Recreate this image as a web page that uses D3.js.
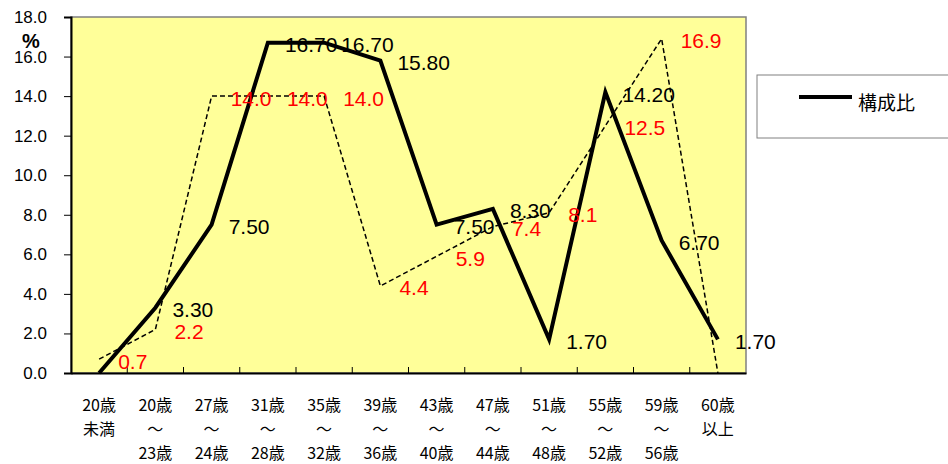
<!doctype html>
<html>
<head>
<meta charset="utf-8">
<script src="https://cdnjs.cloudflare.com/ajax/libs/d3/7.8.5/d3.min.js"></script>
<style>
  body { margin: 0; background: #fff; }
  svg { display: block; }
  .ytick text { font-family: "Liberation Sans", Arial, sans-serif; font-size: 17px; fill: #000; }
  .xlab { font-family: "Noto Sans CJK JP", sans-serif; font-size: 16px; fill: #000; }
  .lab { font-family: "Liberation Sans", Arial, sans-serif; font-size: 21px; }
</style>
</head>
<body>
<svg width="948" height="464"></svg>
<script>
// data
var line1 = ["20歳", "20歳", "27歳", "31歳", "35歳", "39歳", "43歳", "47歳", "51歳", "55歳", "59歳", "60歳"];
var line2 = ["未満", "～", "～", "～", "～", "～", "～", "～", "～", "～", "～", "以上"];
var line3 = ["", "23歳", "24歳", "28歳", "32歳", "36歳", "40歳", "44歳", "48歳", "52歳", "56歳", ""];
var kosei = [0, 3.3, 7.5, 16.7, 16.7, 15.8, 7.5, 8.3, 1.7, 14.2, 6.7, 1.7];
var koseiLabels = ["", "3.30", "7.50", "16.70", "16.70", "15.80", "7.50", "8.30", "1.70", "14.20", "6.70", "1.70"];
var other = [0.7, 2.2, 14.0, 14.0, 14.0, 4.4, 5.9, 7.4, 8.1, 12.5, 16.9, 0];
var otherLabels = ["0.7", "2.2", "14.0", "14.0", "14.0", "4.4", "5.9", "7.4", "8.1", "12.5", "16.9", ""];
var yTicks = [0, 2, 4, 6, 8, 10, 12, 14, 16, 18];

var svg = d3.select("svg");
var pL = 71, pR = 746, pT = 17, pB = 373;

var x = d3.scaleBand().domain(d3.range(line1.length)).range([pL, pR]);
var y = d3.scaleLinear().domain([0, 18]).range([pB, pT]);
function cx(i) { return x(i) + x.bandwidth() / 2; }

// plot area
svg.append("rect")
  .attr("x", pL).attr("y", pT)
  .attr("width", pR - pL).attr("height", pB - pT)
  .attr("fill", "#ffff99").attr("stroke", "#808080").attr("stroke-width", 1.5);

// y axis
var yAxis = svg.append("g").attr("class", "ytick")
  .attr("transform", "translate(" + pL + ",0)")
  .call(d3.axisLeft(y).tickValues(yTicks).tickFormat(d3.format(".1f")).tickSize(7).tickPadding(17));
yAxis.select(".domain").attr("stroke", "#000").attr("stroke-width", 2);
yAxis.selectAll(".tick line").attr("stroke", "#000").attr("stroke-width", 1);

svg.append("text").attr("x", 31).attr("y", 48)
  .attr("text-anchor", "middle")
  .attr("font-family", "Liberation Sans, Arial, sans-serif")
  .attr("font-weight", "bold")
  .attr("font-size", 20).text("%");

// x axis
var xAxis = svg.append("g")
  .attr("transform", "translate(0," + pB + ")")
  .call(d3.axisBottom(x).tickValues([]).tickSizeOuter(0));
xAxis.select(".domain").attr("stroke", "#000").attr("stroke-width", 2);
svg.selectAll("line.xt").data(d3.range(1, line1.length)).enter().append("line")
  .attr("class", "xt")
  .attr("x1", function (d) { return x(d); }).attr("x2", function (d) { return x(d); })
  .attr("y1", pB).attr("y2", pB - 6)
  .attr("stroke", "#000");

var xl = svg.selectAll("text.xlab").data(d3.range(line1.length)).enter().append("text")
  .attr("class", "xlab")
  .attr("text-anchor", "middle");
xl.append("tspan").attr("x", function (d) { return cx(d); }).attr("y", 411).text(function (d) { return line1[d]; });
xl.append("tspan").attr("x", function (d) { return cx(d); }).attr("y", 435).text(function (d) { return line2[d]; });
xl.append("tspan").attr("x", function (d) { return cx(d); }).attr("y", 459).text(function (d) { return line3[d]; });

// lines
var lineGen = d3.line().x(function (d, i) { return cx(i); }).y(function (d) { return y(d); });

svg.append("path").datum(other)
  .attr("d", lineGen)
  .attr("fill", "none").attr("stroke", "#000")
  .attr("stroke-width", 1.5).attr("stroke-dasharray", "5,3");

svg.append("path").datum(kosei)
  .attr("d", lineGen)
  .attr("fill", "none").attr("stroke", "#000")
  .attr("stroke-width", 4).attr("stroke-linejoin", "miter");

// data labels
svg.selectAll("text.lk").data(kosei).enter().append("text")
  .attr("class", "lab lk")
  .attr("x", function (d, i) { return cx(i) + 17; })
  .attr("y", function (d) { return y(d) + 2; })
  .attr("dominant-baseline", "central")
  .attr("fill", "#000")
  .text(function (d, i) { return koseiLabels[i]; });

svg.selectAll("text.lo").data(other).enter().append("text")
  .attr("class", "lab lo")
  .attr("x", function (d, i) { return cx(i) + 19; })
  .attr("y", function (d) { return y(d) + 2; })
  .attr("dominant-baseline", "central")
  .attr("fill", "#ff0000")
  .text(function (d, i) { return otherLabels[i]; });

// legend
svg.append("rect").attr("x", 757).attr("y", 75).attr("width", 200).attr("height", 63)
  .attr("fill", "#fff").attr("stroke", "#808080");
svg.append("line").attr("x1", 799).attr("x2", 852).attr("y1", 97).attr("y2", 97)
  .attr("stroke", "#000").attr("stroke-width", 4);
svg.append("text").attr("x", 858).attr("y", 101)
  .attr("dominant-baseline", "central")
  .attr("font-family", "Noto Sans CJK JP, sans-serif")
  .attr("font-size", 19).text("構成比");
</script>
</body>
</html>
